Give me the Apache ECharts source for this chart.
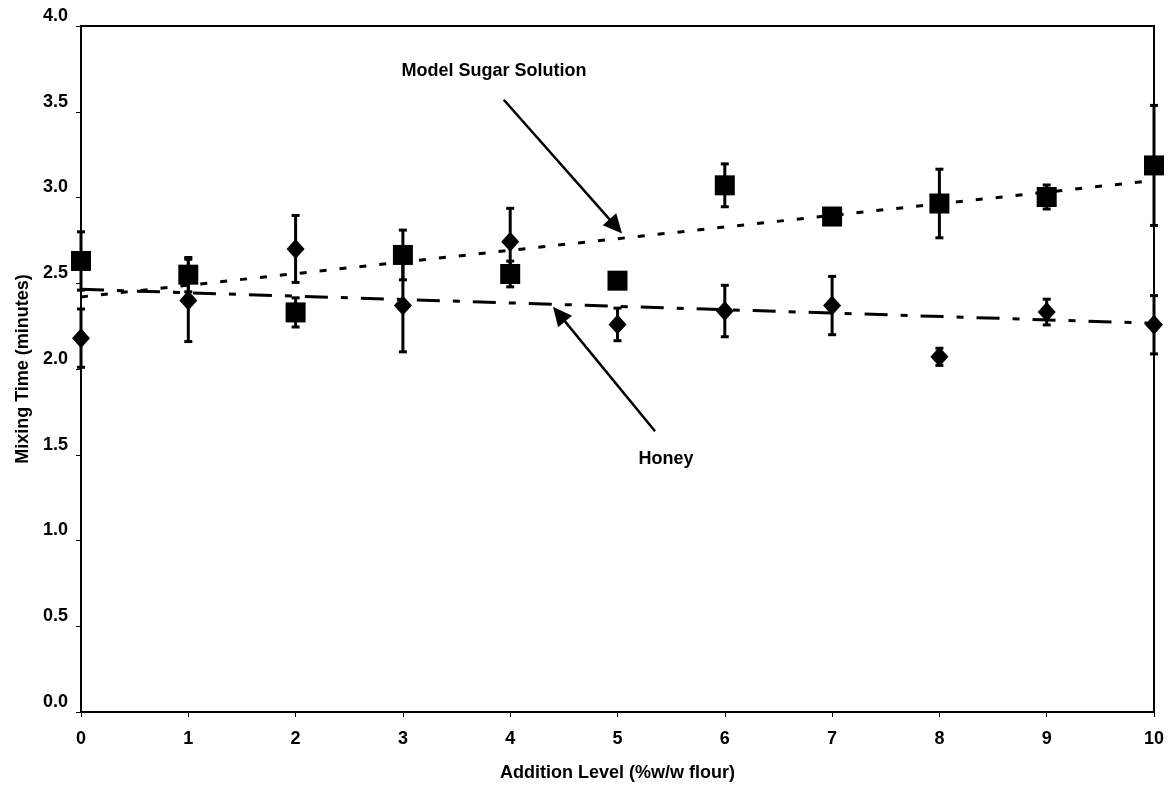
<!DOCTYPE html>
<html lang="en">
  <head>
    <meta charset="UTF-8" />
    <title>Mixing Time</title>
    <script src="https://cdn.jsdelivr.net/npm/echarts@6/dist/echarts.min.js"></script>
  </head>
  <body style="margin:0;background:#fff">
    <div id="main" style="width: 1172px;height:787px;"></div>
    <script type="text/javascript">
      // values
      var levels = [0, 1, 2, 3, 4, 5, 6, 7, 8, 9, 10];
      var sugarMean = [2.63, 2.55, 2.33, 2.665, 2.554, 2.515, 3.071, 2.889, 2.965, 3.003, 3.187];
      var sugarErr = [0.17, 0.10, 0.085, 0.145, 0.075, 0.03, 0.125, 0.03, 0.2, 0.07, 0.35];
      var honeyMean = [2.18, 2.40, 2.70, 2.37, 2.742, 2.26, 2.338, 2.37, 2.071, 2.332, 2.258];
      var honeyErr = [0.17, 0.24, 0.195, 0.27, 0.195, 0.095, 0.15, 0.17, 0.05, 0.075, 0.17];
      var yTicks = ["0.0", "0.5", "1.0", "1.5", "2.0", "2.5", "3.0", "3.5", "4.0"];

      // arrow ends in data units: [from, head centre]
      var sugarArrow = [[3.94, 3.57], [4.984, 2.832]];
      var honeyArrow = [[5.35, 1.637], [4.455, 2.32]];

      var font = "Liberation Sans, Arial, sans-serif";

      // least squares line, like the excel trendline
      function linFit(xs, ys) {
        var n = xs.length, sx = 0, sy = 0, sxy = 0, sxx = 0;
        for (var i = 0; i < n; i++) {
          sx += xs[i]; sy += ys[i]; sxy += xs[i] * ys[i]; sxx += xs[i] * xs[i];
        }
        var a = (n * sxy - sx * sy) / (n * sxx - sx * sx);
        var b = (sy - a * sx) / n;
        var x0 = xs[0], x1 = xs[n - 1];
        return [[x0, b + a * x0], [x1, b + a * x1]];
      }

      function pairs(xs, ys) {
        return xs.map(function (x, i) { return [x, ys[i]]; });
      }
      function errRows(xs, ys, es) {
        return xs.map(function (x, i) { return [x, ys[i], es[i]]; });
      }

      function renderErr(params, api) {
        var x = api.value(0), m = api.value(1), e = api.value(2);
        var top = api.coord([x, m + e]);
        var bot = api.coord([x, m - e]);
        var w = 4;
        var st = { stroke: "#000", lineWidth: 3 };
        return {
          type: "group",
          children: [
            { type: "line", shape: { x1: top[0], y1: top[1], x2: bot[0], y2: bot[1] }, style: st },
            { type: "line", shape: { x1: top[0] - w, y1: top[1], x2: top[0] + w, y2: top[1] }, style: st },
            { type: "line", shape: { x1: bot[0] - w, y1: bot[1], x2: bot[0] + w, y2: bot[1] }, style: st },
          ],
        };
      }

      var myChart = echarts.init(document.getElementById("main"));
      var option = {
        animation: false,
        grid: {
          left: 81, right: 18, top: 26, bottom: 72,
          show: true, borderColor: "#000", borderWidth: 2,
        },
        xAxis: {
          type: "value", min: 0, max: 10, interval: 1,
          name: "Addition Level (%w/w flour)",
          nameLocation: "middle", nameGap: 52,
          nameTextStyle: { fontFamily: font, fontWeight: "bold", fontSize: 18, color: "#000" },
          axisLine: { lineStyle: { color: "#000", width: 2 } },
          axisTick: { length: 5, lineStyle: { color: "#000", width: 1 } },
          axisLabel: { margin: 18, fontFamily: font, fontWeight: "bold", fontSize: 18, color: "#000" },
          splitLine: { show: false },
        },
        yAxis: {
          type: "value", min: 0, max: 4, interval: 0.5,
          name: "Mixing Time (minutes)",
          nameLocation: "middle", nameGap: 45,
          nameTextStyle: { fontFamily: font, fontWeight: "bold", fontSize: 18, color: "#000" },
          axisLine: { lineStyle: { color: "#000", width: 2 } },
          axisTick: { length: 5, lineStyle: { color: "#000", width: 1 } },
          axisLabel: {
            margin: 13, fontFamily: font, fontWeight: "bold", fontSize: 18, color: "#000",
            verticalAlign: "bottom", lineHeight: 20,
            formatter: function (v) { return yTicks[Math.round(v * 2)]; },
          },
          splitLine: { show: false },
        },
        series: [
          {
            name: "Model Sugar Solution trend",
            type: "line",
            data: linFit(levels, sugarMean),
            showSymbol: false,
            lineStyle: { color: "#000", width: 3, type: [7, 13] },
            z: 3,
            markLine: {
              silent: true,
              symbol: ["none", "triangle"],
              symbolSize: [18, 19],
              itemStyle: { color: "#000" },
              lineStyle: { color: "#000", width: 2.5, type: "solid" },
              label: { show: false },
              data: [
                [{ coord: sugarArrow[0] }, { coord: sugarArrow[1] }],
                [{ coord: honeyArrow[0] }, { coord: honeyArrow[1] }],
              ],
            },
          },
          {
            name: "Honey trend",
            type: "line",
            data: linFit(levels, honeyMean),
            showSymbol: false,
            lineStyle: { color: "#000", width: 3, type: [23, 13, 7, 13] },
            z: 3,
          },
          {
            name: "Model Sugar Solution err",
            type: "custom",
            renderItem: renderErr,
            data: errRows(levels, sugarMean, sugarErr),
            z: 4,
          },
          {
            name: "Honey err",
            type: "custom",
            renderItem: renderErr,
            data: errRows(levels, honeyMean, honeyErr),
            z: 4,
          },
          {
            name: "Model Sugar Solution",
            type: "scatter",
            symbol: "rect",
            symbolSize: 20,
            itemStyle: { color: "#000", opacity: 1 },
            data: pairs(levels, sugarMean),
            clip: false,
            z: 5,
          },
          {
            name: "Honey",
            type: "scatter",
            symbol: "diamond",
            symbolSize: [18, 20],
            itemStyle: { color: "#000", opacity: 1 },
            data: pairs(levels, honeyMean),
            clip: false,
            z: 5,
          },
        ],
        graphic: [
          {
            type: "text", x: 494, y: 71,
            style: {
              text: "Model Sugar Solution", fill: "#000",
              font: "bold 18px " + font, align: "center", verticalAlign: "middle",
            },
          },
          {
            type: "text", x: 666, y: 459,
            style: {
              text: "Honey", fill: "#000",
              font: "bold 18px " + font, align: "center", verticalAlign: "middle",
            },
          },
        ],
      };
      myChart.setOption(option);
    </script>
  </body>
</html>
